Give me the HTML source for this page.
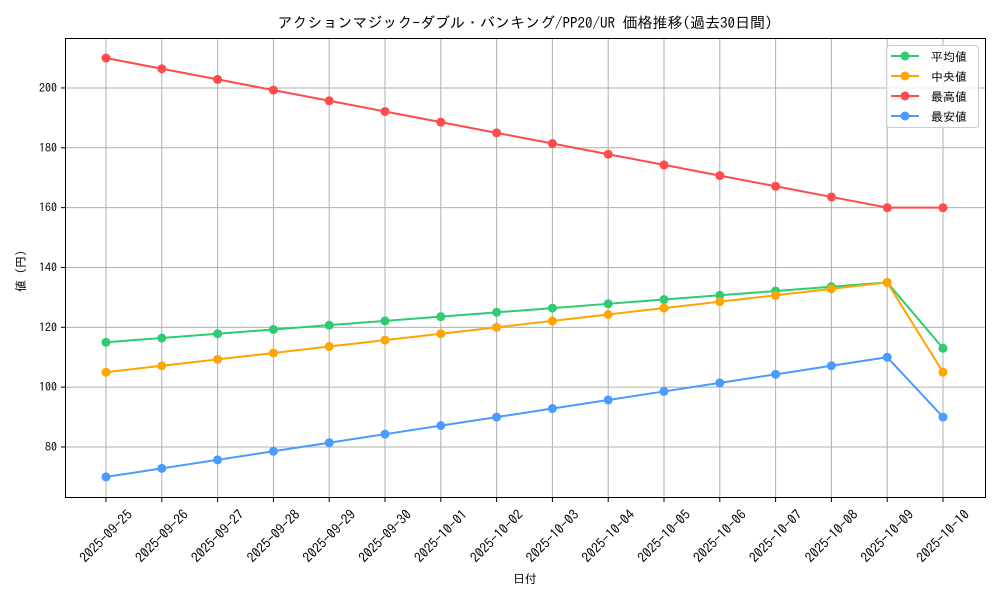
<!DOCTYPE html><html><head><meta charset="utf-8"><style>body{margin:0;background:#fff}svg{display:block}text{font-family:"IPAGothic","Liberation Sans","Noto Sans CJK JP",sans-serif;fill:#000}</style></head><body>
<svg id="s" width="1000" height="600" xmlns="http://www.w3.org/2000/svg">
<rect width="1000" height="600" fill="#fff"/>
<g id="grid"></g><g id="series"></g>
<rect x="65.5" y="38.5" width="920" height="459" fill="none" stroke="#000" stroke-width="1"/>
<text x="525" y="28" font-size="15" text-anchor="middle">アクションマジック-ダブル・バンキング/PP20/UR 価格推移(過去30日間)</text>
<text x="525" y="583" font-size="12" text-anchor="middle">日付</text>
<text transform="translate(25,268) rotate(-90)" font-size="12" text-anchor="middle">値（円）</text>
<g id="legend">
<rect x="886.5" y="45.5" width="92" height="82" rx="3" fill="#fff" fill-opacity="0.8" stroke="#ccc"/>
</g>
</svg>
<script>
const ns="http://www.w3.org/2000/svg";
function el(t,a,p,txt){const e=document.createElementNS(ns,t);for(const k in a)e.setAttribute(k,a[k]);if(txt)e.textContent=txt;document.getElementById(p).appendChild(e);return e;}
const X=i=>106+i*55.8, Y=v=>447-(v-80)*2.992;
const dates=["2025-09-25","2025-09-26","2025-09-27","2025-09-28","2025-09-29","2025-09-30","2025-10-01","2025-10-02","2025-10-03","2025-10-04","2025-10-05","2025-10-06","2025-10-07","2025-10-08","2025-10-09","2025-10-10"];
dates.forEach((d,i)=>{const x=X(i);el("line",{x1:x,x2:x,y1:38.5,y2:497.5,stroke:"#b0b0b0","stroke-width":1},"grid");
el("line",{x1:x,x2:x,y1:497.5,y2:502,stroke:"#000"},"grid");
el("text",{"font-size":13.5,"text-anchor":"middle",dy:"0.35em",transform:`translate(${x},${536}) rotate(-45)`},"grid",d);});
[80,100,120,140,160,180,200].forEach(v=>{const y=Y(v);el("line",{x1:65.5,x2:985.5,y1:y,y2:y,stroke:"#b0b0b0"},"grid");
el("line",{x1:61,x2:65.5,y1:y,y2:y,stroke:"#000"},"grid");
el("text",{x:57,y:y+4,"font-size":12,"text-anchor":"end"},"grid",v);});
function lin(a,b,last){const r=[];for(let i=0;i<15;i++)r.push(a+(b-a)*i/14);r.push(last);return r;}
const S=[["#2ecc71",lin(115,135,113),"平均値"],["#ffa500",lin(105,135,105)," 中央値"],["#ff4b4b",lin(210,160,160),"最高値"],["#4a9bff",lin(70,110,90),"最安値"]];
S.forEach(([c,d,n],k)=>{el("polyline",{points:d.map((v,i)=>X(i)+","+Y(v)).join(" "),fill:"none",stroke:c,"stroke-width":2},"series");
d.forEach((v,i)=>el("circle",{cx:X(i),cy:Y(v),r:4.5,fill:c},"series"));
const ly=56+k*20;el("line",{x1:891,x2:919,y1:ly,y2:ly,stroke:c,"stroke-width":2},"legend");
el("circle",{cx:905,cy:ly,r:4.5,fill:c},"legend");el("text",{x:931,y:ly+5,"font-size":12},"legend",n);});
</script></body></html>
